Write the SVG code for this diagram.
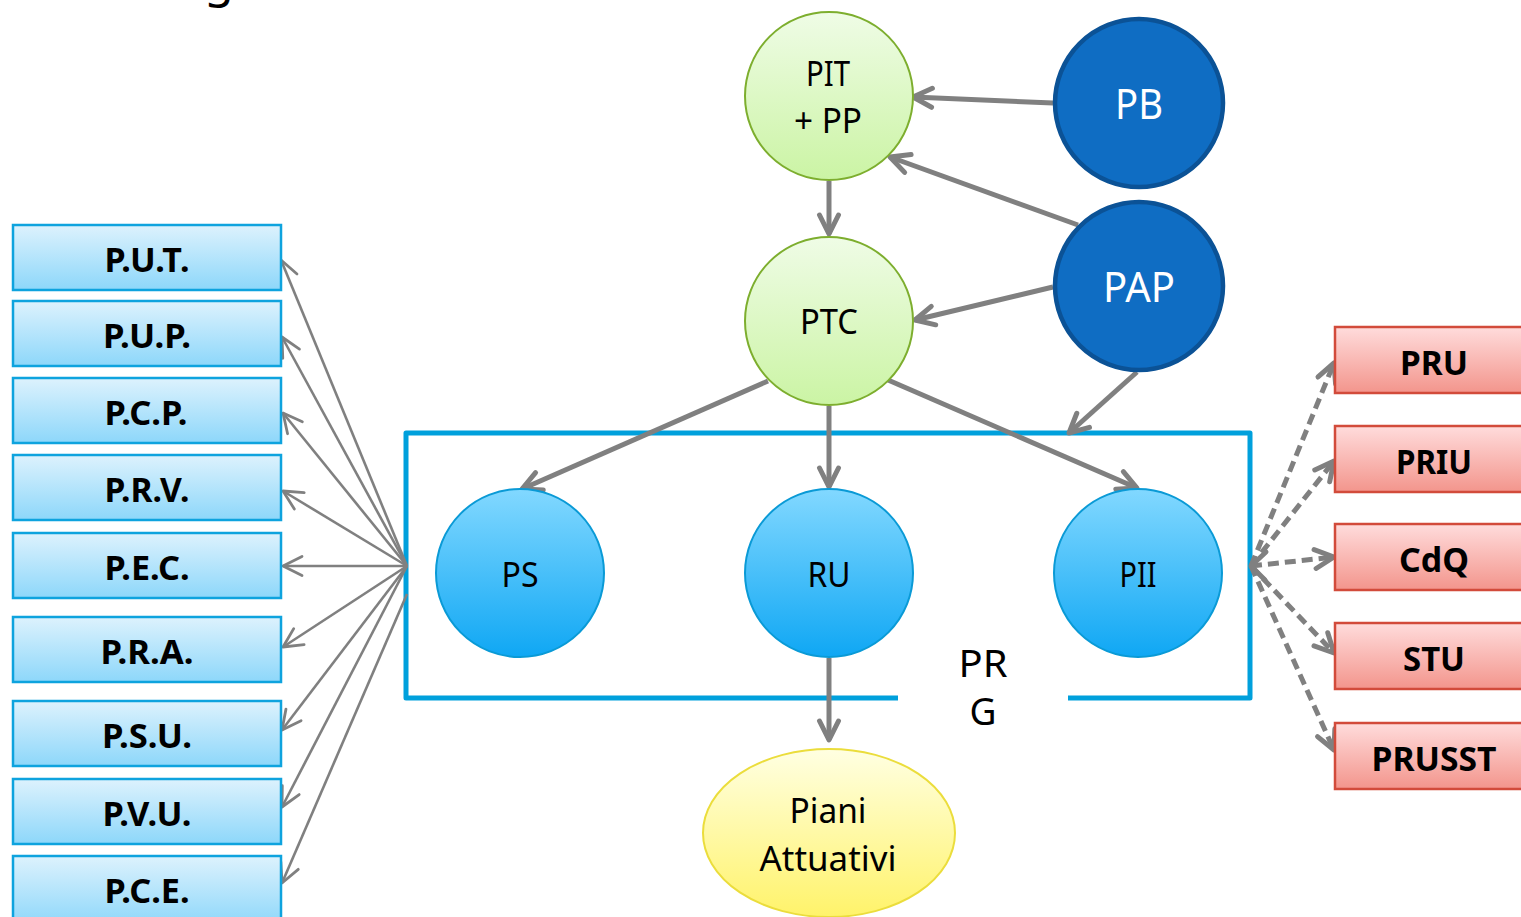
<svg xmlns="http://www.w3.org/2000/svg" width="1521" height="917" viewBox="0 0 1521 917">
  <style>
    text { font-family: "Noto Sans", "Open Sans", sans-serif; text-anchor: middle; }
    .lbl { font-size: 34px; fill: #000; }
    .bold { font-size: 34px; font-weight: bold; fill: #000; }
    .white { font-size: 42px; fill: #fff; }
    .box-l { fill: url(#gBoxL); stroke: #0EA3DE; stroke-width: 2.5; }
    .box-r { fill: url(#gBoxR); stroke: #D24B3B; stroke-width: 2.5; }
    .c-green { fill: url(#gGreen); stroke: #7DAE2E; stroke-width: 2; }
    .c-blue { fill: url(#gBlue); stroke: #0A9AD6; stroke-width: 2; }
    .c-dark { fill: #0F6DC3; stroke: #0B5296; stroke-width: 4.5; }
    .thick { stroke: #808080; stroke-width: 5; fill: none; marker-end: url(#aThick); }
    .thin { stroke: #808080; stroke-width: 2.6; fill: none; marker-end: url(#aThin); }
    .dash { stroke: #808080; stroke-width: 5; fill: none; stroke-dasharray: 11 6; marker-end: url(#aThick); }
    .head { stroke: #808080; stroke-width: 5; fill: none; stroke-linecap: round; stroke-linejoin: round; }
  </style>
  <defs>
    <linearGradient id="gBoxL" x1="0" y1="0" x2="0" y2="1">
      <stop offset="0" stop-color="#DDF2FD"/>
      <stop offset="1" stop-color="#8DD7FA"/>
    </linearGradient>
    <linearGradient id="gBoxR" x1="0" y1="0" x2="0" y2="1">
      <stop offset="0" stop-color="#FFDCDC"/>
      <stop offset="1" stop-color="#F3958C"/>
    </linearGradient>
    <linearGradient id="gGreen" x1="0" y1="0" x2="0" y2="1">
      <stop offset="0" stop-color="#EFFCE6"/>
      <stop offset="1" stop-color="#CBF4A4"/>
    </linearGradient>
    <linearGradient id="gBlue" x1="0" y1="0" x2="0" y2="1">
      <stop offset="0" stop-color="#82D8FF"/>
      <stop offset="1" stop-color="#0FA7F4"/>
    </linearGradient>
    <linearGradient id="gYellow" x1="0" y1="0" x2="0" y2="1">
      <stop offset="0" stop-color="#FFFFE2"/>
      <stop offset="1" stop-color="#FFF36A"/>
    </linearGradient>
    <marker id="aThick" markerUnits="userSpaceOnUse" markerWidth="30" markerHeight="30" viewBox="0 0 30 30" refX="24" refY="15" orient="auto">
      <path d="M5,5.5 L24,15 L5,24.5" fill="none" stroke="#808080" stroke-width="5" stroke-linecap="round" stroke-linejoin="round" stroke-dasharray="none"/>
    </marker>
    <marker id="aThin" markerUnits="userSpaceOnUse" markerWidth="30" markerHeight="30" viewBox="0 0 30 30" refX="24" refY="15" orient="auto">
      <path d="M5,5.5 L24,15 L5,24.5" fill="none" stroke="#808080" stroke-width="2.8" stroke-linecap="round" stroke-linejoin="round"/>
    </marker>
  </defs>

  <rect width="1521" height="917" fill="#fff"/>

  <!-- tail of the page heading, cut by the top edge -->
  <text x="219" y="-3" style="font-size:48px">g</text>

  <!-- PRG frame with a gap for its label -->
  <g id="prg">
    <path d="M898,698 L406,698 L406,433 L1250,433 L1250,698 L1068,698" fill="none" stroke="#00A0DC" stroke-width="5" stroke-linejoin="round"/>
    <text class="lbl" x="983" y="677" style="font-size:38px" textLength="49" lengthAdjust="spacingAndGlyphs">PR</text>
    <text class="lbl" x="983" y="725" style="font-size:38px" textLength="27" lengthAdjust="spacingAndGlyphs">G</text>
  </g>

  <!-- connectors -->
  <g id="connectors">
    <!-- main flow -->
    <line class="thick" x1="1053" y1="103" x2="913" y2="97"/>
    <line class="thick" x1="1078" y1="225" x2="890" y2="157"/>
    <line class="thick" x1="1053" y1="287" x2="915" y2="320"/>
    <line class="thick" x1="829" y1="181" x2="829" y2="234"/>
    <line class="thick" x1="1137" y1="372" x2="1069" y2="433"/>
    <line class="thick" x1="768" y1="381" x2="522" y2="489"/>
    <line class="thick" x1="829" y1="406" x2="829" y2="487"/>
    <line class="thick" x1="888" y1="380" x2="1137" y2="488"/>
    <line class="thick" x1="829" y1="658" x2="829" y2="740"/>
    <!-- fan to the sector plans -->
    <line class="thin" x1="407" y1="566" x2="281" y2="260"/>
    <line class="thin" x1="407" y1="566" x2="282" y2="337"/>
    <line class="thin" x1="407" y1="566" x2="283" y2="413"/>
    <line class="thin" x1="407" y1="566" x2="283" y2="491"/>
    <line class="thin" x1="407" y1="566" x2="283" y2="566"/>
    <line class="thin" x1="407" y1="566" x2="283" y2="647"/>
    <line class="thin" x1="407" y1="566" x2="282" y2="730"/>
    <line class="thin" x1="407" y1="566" x2="282" y2="807"/>
    <line class="thin" x1="407" y1="594" x2="282" y2="883"/>
    <!-- dashed links to the complex programmes -->
    <line class="dash" x1="1251" y1="566" x2="1334" y2="363"/>
    <line class="dash" x1="1251" y1="566" x2="1334" y2="461"/>
    <line class="dash" x1="1251" y1="566" x2="1334" y2="557"/>
    <line class="dash" x1="1251" y1="566" x2="1334" y2="653"/>
    <line class="dash" x1="1251" y1="566" x2="1334" y2="750"/>
    <path class="head" d="M1266,552 L1251,566 L1265,580"/>
  </g>

  <!-- upper level plans -->
  <g id="pit-pp">
    <circle class="c-green" cx="829" cy="96" r="84"/>
    <text class="lbl" x="828" y="86" textLength="44" lengthAdjust="spacingAndGlyphs">PIT</text>
    <text class="lbl" x="828" y="133" textLength="68" lengthAdjust="spacingAndGlyphs">+ PP</text>
  </g>
  <g id="ptc">
    <circle class="c-green" cx="829" cy="321" r="84"/>
    <text class="lbl" x="829" y="334" style="font-size:35px" textLength="58" lengthAdjust="spacingAndGlyphs">PTC</text>
  </g>
  <g id="pb">
    <circle class="c-dark" cx="1139" cy="103" r="84"/>
    <text class="white" x="1139" y="119" textLength="48" lengthAdjust="spacingAndGlyphs">PB</text>
  </g>
  <g id="pap">
    <circle class="c-dark" cx="1139" cy="286" r="84"/>
    <text class="white" x="1139" y="302" textLength="72" lengthAdjust="spacingAndGlyphs">PAP</text>
  </g>

  <!-- PRG components -->
  <g id="ps">
    <circle class="c-blue" cx="520" cy="573" r="84"/>
    <text class="lbl" x="520" y="587" textLength="37" lengthAdjust="spacingAndGlyphs">PS</text>
  </g>
  <g id="ru">
    <circle class="c-blue" cx="829" cy="573" r="84"/>
    <text class="lbl" x="829" y="587" textLength="43" lengthAdjust="spacingAndGlyphs">RU</text>
  </g>
  <g id="pii">
    <circle class="c-blue" cx="1138" cy="573" r="84"/>
    <text class="lbl" x="1138" y="587" textLength="37" lengthAdjust="spacingAndGlyphs">PII</text>
  </g>

  <g id="piani-attuativi">
    <ellipse cx="829" cy="833" rx="126" ry="84" fill="url(#gYellow)" stroke="#EBDD3C" stroke-width="2"/>
    <text class="lbl" x="828" y="823" textLength="77" lengthAdjust="spacingAndGlyphs">Piani</text>
    <text class="lbl" x="828" y="871" textLength="137" lengthAdjust="spacingAndGlyphs">Attuativi</text>
  </g>

  <!-- sector plans -->
  <g id="put"><rect class="box-l" x="13" y="225" width="268" height="65"/><text class="bold" x="147" y="272" textLength="85" lengthAdjust="spacingAndGlyphs">P.U.T.</text></g>
  <g id="pup"><rect class="box-l" x="13" y="301" width="268" height="65"/><text class="bold" x="147" y="348" textLength="88" lengthAdjust="spacingAndGlyphs">P.U.P.</text></g>
  <g id="pcp"><rect class="box-l" x="13" y="378" width="268" height="65"/><text class="bold" x="146" y="425" textLength="83" lengthAdjust="spacingAndGlyphs">P.C.P.</text></g>
  <g id="prv"><rect class="box-l" x="13" y="455" width="268" height="65"/><text class="bold" x="147" y="502" textLength="85" lengthAdjust="spacingAndGlyphs">P.R.V.</text></g>
  <g id="pec"><rect class="box-l" x="13" y="533" width="268" height="65"/><text class="bold" x="147" y="580" textLength="85" lengthAdjust="spacingAndGlyphs">P.E.C.</text></g>
  <g id="pra"><rect class="box-l" x="13" y="617" width="268" height="65"/><text class="bold" x="147" y="664" textLength="93" lengthAdjust="spacingAndGlyphs">P.R.A.</text></g>
  <g id="psu"><rect class="box-l" x="13" y="701" width="268" height="65"/><text class="bold" x="147" y="748" textLength="90" lengthAdjust="spacingAndGlyphs">P.S.U.</text></g>
  <g id="pvu"><rect class="box-l" x="13" y="779" width="268" height="65"/><text class="bold" x="147" y="826" textLength="89" lengthAdjust="spacingAndGlyphs">P.V.U.</text></g>
  <g id="pce"><rect class="box-l" x="13" y="856" width="268" height="70"/><text class="bold" x="147" y="903" textLength="85" lengthAdjust="spacingAndGlyphs">P.C.E.</text></g>

  <!-- complex programmes -->
  <g id="pru"><rect class="box-r" x="1335" y="327" width="200" height="66"/><text class="bold" x="1434" y="375" textLength="68" lengthAdjust="spacingAndGlyphs">PRU</text></g>
  <g id="priu"><rect class="box-r" x="1335" y="426" width="200" height="66"/><text class="bold" x="1434" y="474" textLength="76" lengthAdjust="spacingAndGlyphs">PRIU</text></g>
  <g id="cdq"><rect class="box-r" x="1335" y="524" width="200" height="66"/><text class="bold" x="1434" y="572" textLength="70" lengthAdjust="spacingAndGlyphs">CdQ</text></g>
  <g id="stu"><rect class="box-r" x="1335" y="623" width="200" height="66"/><text class="bold" x="1434" y="671" textLength="62" lengthAdjust="spacingAndGlyphs">STU</text></g>
  <g id="prusst"><rect class="box-r" x="1335" y="723" width="200" height="66"/><text class="bold" x="1434" y="771" textLength="125" lengthAdjust="spacingAndGlyphs">PRUSST</text></g>
</svg>
